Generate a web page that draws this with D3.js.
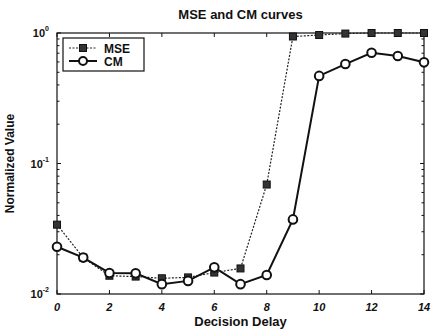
<!DOCTYPE html>
<html>
<head>
<meta charset="utf-8">
<script src="https://cdn.jsdelivr.net/npm/d3@7"></script>
<style>
body { margin: 0; background: #fff; }
text { font-family: "Liberation Sans", Arial, sans-serif; font-weight: bold; fill: #111; }
</style>
</head>
<body>
<div id="chart"></div>
<script>
// decision delay vs normalized value, log y axis

let delays = [0, 1, 2, 3, 4, 5, 6, 7, 8, 9, 10, 11, 12, 13, 14]
let mseValues = [0.034, 0.019, 0.0138, 0.0136, 0.0132, 0.0134, 0.0146, 0.0157, 0.069, 0.94, 0.965, 0.99, 1.0, 1.0, 1.0]
let cmValues = [0.023, 0.019, 0.0145, 0.0144, 0.0119, 0.0126, 0.016, 0.0119, 0.014, 0.0373, 0.469, 0.578, 0.706, 0.667, 0.596]
let xTicks = [0, 2, 4, 6, 8, 10, 12, 14]
let yTicks = [0.01, 0.1, 1]

let margin = {top: 33, bottom: 37, left: 57, right: 8}
let width = 432 - margin.left - margin.right
let height = 331 - margin.top - margin.bottom

let svg = d3.select('#chart')
    .append('svg')
    .attr('width', 432)
    .attr('height', 331)

let g = svg.append('g')
    .attr('transform', `translate(${margin.left},${margin.top})`)

let x = d3.scaleLinear().domain([0, 14]).range([0, width])
let y = d3.scaleLog().domain([0.01, 1]).range([height, 0])

// minor log ticks
let minor = []
;[0.01, 0.1].forEach(d => { for (let k = 2; k <= 9; k++) minor.push(d * k) })

// box
g.append('rect')
    .attr('width', width).attr('height', height)
    .attr('fill', 'none').attr('stroke', '#111').attr('stroke-width', 1.2)

// x ticks bottom and top
xTicks.forEach(t => {
    g.append('line').attr('x1', x(t)).attr('x2', x(t)).attr('y1', height).attr('y2', height - 4).attr('stroke', '#111')
    g.append('line').attr('x1', x(t)).attr('x2', x(t)).attr('y1', 0).attr('y2', 4).attr('stroke', '#111')
    g.append('text')
        .attr('x', x(t)).attr('y', height + 17)
        .attr('text-anchor', 'middle')
        .style('font-size', '11px').style('font-style', 'italic')
        .text(t)
})

// y ticks left and right
yTicks.concat(minor).forEach(t => {
    let len = yTicks.includes(t) ? 4 : 2.5
    g.append('line').attr('x1', 0).attr('x2', len).attr('y1', y(t)).attr('y2', y(t)).attr('stroke', '#111')
    g.append('line').attr('x1', width).attr('x2', width - len).attr('y1', y(t)).attr('y2', y(t)).attr('stroke', '#111')
})

yTicks.forEach(t => {
    let lab = g.append('text')
        .attr('x', -8).attr('y', y(t) + 4)
        .attr('text-anchor', 'end')
        .style('font-size', '11px')
    lab.append('tspan').text('10')
    lab.append('tspan').attr('dy', -6).style('font-size', '7px').text(Math.round(Math.log10(t)))
})

let lineGen = vals => d3.line()
    .x((d, i) => x(delays[i]))
    .y(d => y(d))(vals)

// MSE curve, dotted with squares
g.append('path')
    .attr('d', lineGen(mseValues))
    .attr('fill', 'none').attr('stroke', '#222').attr('stroke-width', 1.2)
    .attr('stroke-dasharray', '2,1.5')

g.selectAll('.sq')
    .data(mseValues)
    .enter()
    .append('rect')
    .attr('class', 'sq')
    .attr('x', (d, i) => x(delays[i]) - 3.5)
    .attr('y', d => y(d) - 3.5)
    .attr('width', 7).attr('height', 7)
    .attr('fill', '#333').attr('stroke', '#111').attr('stroke-width', 1)

// CM curve, solid with circles
g.append('path')
    .attr('d', lineGen(cmValues))
    .attr('fill', 'none').attr('stroke', '#111').attr('stroke-width', 2)

g.selectAll('.circ')
    .data(cmValues)
    .enter()
    .append('circle')
    .attr('class', 'circ')
    .attr('cx', (d, i) => x(delays[i]))
    .attr('cy', d => y(d))
    .attr('r', 4.3)
    .attr('fill', '#fff').attr('stroke', '#111').attr('stroke-width', 2)

// legend
let leg = g.append('g').attr('transform', 'translate(6,5)')
leg.append('rect').attr('width', 81).attr('height', 33)
    .attr('fill', '#fff').attr('stroke', '#111').attr('stroke-width', 1.2)
leg.append('line').attr('x1', 6).attr('x2', 34).attr('y1', 10).attr('y2', 10)
    .attr('stroke', '#222').attr('stroke-width', 1.2).attr('stroke-dasharray', '2,1.5')
leg.append('rect').attr('x', 16.5).attr('y', 6.5).attr('width', 7).attr('height', 7)
    .attr('fill', '#333').attr('stroke', '#111')
leg.append('text').attr('x', 41).attr('y', 14.5).style('font-size', '12px').text('MSE')
leg.append('line').attr('x1', 6).attr('x2', 34).attr('y1', 23).attr('y2', 23)
    .attr('stroke', '#111').attr('stroke-width', 2)
leg.append('circle').attr('cx', 20).attr('cy', 23).attr('r', 4)
    .attr('fill', '#fff').attr('stroke', '#111').attr('stroke-width', 2)
leg.append('text').attr('x', 41).attr('y', 27.5).style('font-size', '12px').text('CM')

// title and axis labels
svg.append('text')
    .attr('x', margin.left + width / 2).attr('y', 19)
    .attr('text-anchor', 'middle').style('font-size', '13px')
    .text('MSE and CM curves')

svg.append('text')
    .attr('x', margin.left + width / 2).attr('y', 326)
    .attr('text-anchor', 'middle').style('font-size', '13px')
    .text('Decision Delay')

svg.append('text')
    .attr('transform', `translate(14,${margin.top + height / 2}) rotate(-90)`)
    .attr('text-anchor', 'middle').style('font-size', '12px')
    .text('Normalized Value')
</script>
</body>
</html>
